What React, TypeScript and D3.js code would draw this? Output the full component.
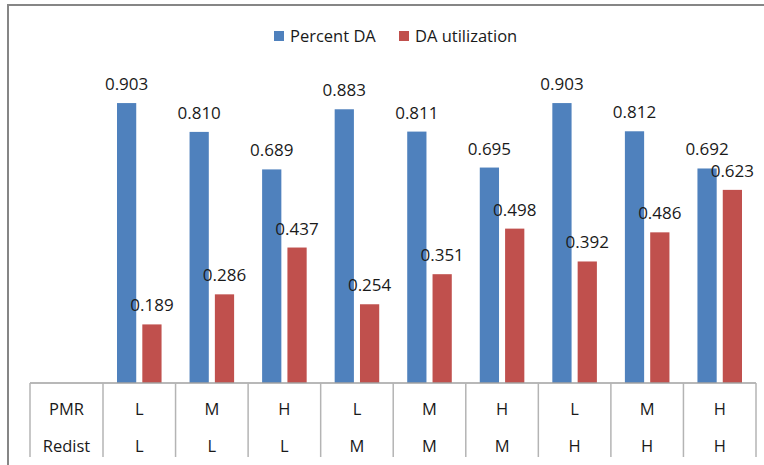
import React, { useEffect, useRef } from 'react';
import { select, scaleBand, scaleLinear } from 'd3';

const categories = ['c1', 'c2', 'c3', 'c4', 'c5', 'c6', 'c7', 'c8', 'c9'];
const pmrLabels = ['L', 'M', 'H', 'L', 'M', 'H', 'L', 'M', 'H'];
const redistLabels = ['L', 'L', 'L', 'M', 'M', 'M', 'H', 'H', 'H'];
const percentDA = [0.903, 0.81, 0.689, 0.883, 0.811, 0.695, 0.903, 0.812, 0.692];
const daUtilization = [0.189, 0.286, 0.437, 0.254, 0.351, 0.498, 0.392, 0.486, 0.623];
const seriesNames = ['Percent DA', 'DA utilization'];
const seriesColors = ['#4F81BD', '#C0504D'];

const W = 764;
const H = 465;
const FONT = '"Open Sans", sans-serif';

const App: React.FC = () => {
  const svgRef = useRef<SVGSVGElement>(null);

  useEffect(() => {
    if (!svgRef.current) return;
    const svg = select(svgRef.current);
    svg.selectAll('*').remove();

    const left = 103;
    const right = 756;
    const baseline = 383;
    const tableLeft = 30;
    const tableBottom = 457;

    const x0 = scaleBand<string>().domain(categories).range([left, right]);
    const x1 = scaleBand<string>().domain(seriesNames).range([14, x0.bandwidth() - 14]).paddingInner(0.24);
    const y = scaleLinear().domain([0, 1]).range([baseline, 73]);

    // outer frame
    svg.append('rect')
      .attr('x', 8).attr('y', 5)
      .attr('width', W + 20).attr('height', H + 20)
      .attr('fill', 'none')
      .attr('stroke', '#868686')
      .attr('stroke-width', 2);

    // legend
    const legendX = [274, 399];
    seriesNames.forEach((name, i) => {
      svg.append('rect')
        .attr('x', legendX[i]).attr('y', 31)
        .attr('width', 10).attr('height', 10)
        .attr('fill', seriesColors[i]);
      svg.append('text')
        .attr('x', legendX[i] + 16).attr('y', 36)
        .attr('dy', '0.35em')
        .attr('font-family', FONT)
        .attr('font-size', 16.5)
        .attr('fill', '#1a1a1a')
        .text(name);
    });

    const series = [percentDA, daUtilization];
    series.forEach((vals, s) => {
      const g = svg.append('g');
      g.selectAll('rect')
        .data(vals)
        .join('rect')
        .attr('x', (_, i) => (x0(categories[i]) as number) + (x1(seriesNames[s]) as number))
        .attr('y', d => y(d))
        .attr('width', x1.bandwidth())
        .attr('height', d => baseline - y(d))
        .attr('fill', seriesColors[s]);
      g.selectAll('text')
        .data(vals)
        .join('text')
        .attr('x', (_, i) => (x0(categories[i]) as number) + (x1(seriesNames[s]) as number) + x1.bandwidth() / 2)
        .attr('y', d => y(d) - 13)
        .attr('text-anchor', 'middle')
        .attr('font-family', FONT)
        .attr('font-size', 17)
        .attr('fill', '#1a1a1a')
        .text(d => d.toFixed(3));
    });

    // data table
    const lineColor = '#b4b4b4';
    svg.append('line')
      .attr('x1', tableLeft).attr('x2', right)
      .attr('y1', baseline).attr('y2', baseline)
      .attr('stroke', '#a0a0a0').attr('stroke-width', 1.5);
    const seps = [tableLeft, ...categories.map(c => x0(c) as number), right];
    svg.selectAll('line.sep')
      .data(seps)
      .join('line')
      .attr('class', 'sep')
      .attr('x1', d => d).attr('x2', d => d)
      .attr('y1', baseline).attr('y2', tableBottom)
      .attr('stroke', lineColor).attr('stroke-width', 1.5);

    const rows = [
      { name: 'PMR', labels: pmrLabels, y: 409 },
      { name: 'Redist', labels: redistLabels, y: 446 },
    ];
    rows.forEach(r => {
      svg.append('text')
        .attr('x', (tableLeft + left) / 2).attr('y', r.y)
        .attr('dy', '0.35em')
        .attr('text-anchor', 'middle')
        .attr('font-family', FONT)
        .attr('font-size', 16.5)
        .attr('fill', '#1a1a1a')
        .text(r.name);
      svg.append('g').selectAll('text')
        .data(r.labels)
        .join('text')
        .attr('x', (_, i) => (x0(categories[i]) as number) + x0.bandwidth() / 2)
        .attr('y', r.y)
        .attr('dy', '0.35em')
        .attr('text-anchor', 'middle')
        .attr('font-family', FONT)
        .attr('font-size', 16.5)
        .attr('fill', '#1a1a1a')
        .text(d => d);
    });
  }, []);

  return (
    <div style={{ position: 'absolute', left: 0, top: 0, width: W, height: H, background: '#fff', overflow: 'hidden' }}>
      <svg ref={svgRef} width={W} height={H} style={{ display: 'block' }} />
    </div>
  );
};

export default App;
